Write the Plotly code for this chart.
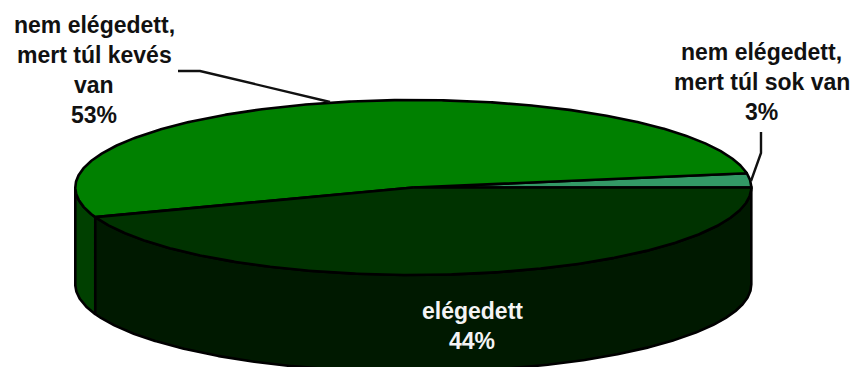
import numpy as np
import plotly.graph_objects as go

# Data
categories = ["nem elégedett, mert túl sok van", "nem elégedett, mert túl kevés van", "elégedett"]
shares = [2.6, 52.9, 44.5]
percent_labels = ["3%", "53%", "44%"]
label_lines = [
    ["nem elégedett,", "mert túl sok van", "3%"],
    ["nem elégedett,", "mert túl kevés", "van", "53%"],
    ["elégedett", "44%"],
]
top_colors = ["#339966", "#008000", "#003300"]
side_colors = ["#1a4d33", "#004000", "#001900"]
text_colors = ["#111111", "#111111", "#f4f4f4"]

# Pie geometry in picture pixels
W, H = 855, 367
CX, CY, RX, RY, DEPTH = 413.3, 187.5, 338, 87.5, 97
LINE = dict(color="black", width=2.6)


def ring(a0, a1, dy=0.0):
    t = np.radians(np.linspace(a0, a1, max(int(abs(a1 - a0) * 3), 2)))
    return CX + RX * np.cos(t), CY - RY * np.sin(t) + dy


fig = go.Figure()


def poly(x, y, color):
    fig.add_trace(go.Scatter(
        x=list(x), y=list(y), mode="lines", fill="toself", fillcolor=color,
        line=LINE, hoverinfo="skip", showlegend=False))


edges = np.cumsum([0] + shares) * 3.6

# Side walls: only the front half (180..360 degrees) is visible
for i in range(len(shares)):
    a0, a1 = max(edges[i], 180.0), max(edges[i + 1], 180.0)
    if a1 > a0:
        x0, y0 = ring(a0, a1)
        x1, y1 = ring(a1, a0, DEPTH)
        poly(np.r_[x0, x1, x0[0]], np.r_[y0, y1, y0[0]], side_colors[i])

# Top faces
for i in range(len(shares)):
    x0, y0 = ring(edges[i], edges[i + 1])
    poly(np.r_[CX, x0, CX], np.r_[CY, y0, CY], top_colors[i])

# Leader lines
leaders = [
    ([761, 761, 751], [132, 153, 181]),
    ([178, 200, 330], [71, 71, 102]),
]
for lx, ly in leaders:
    fig.add_trace(go.Scatter(x=lx, y=ly, mode="lines", line=dict(color="#111111", width=2.4),
                             hoverinfo="skip", showlegend=False))

# Labels: one annotation per line so the line pitch can match
anchors = [(761.5, 52, 30), (94, 25, 30), (472, 311, 30)]
annotations = []
for lines, (ax, ay, pitch), col in zip(label_lines, anchors, text_colors):
    for k, txt in enumerate(lines):
        annotations.append(dict(
            x=ax, y=ay + k * pitch, text=f"<b>{txt}</b>", showarrow=False,
            xanchor="center", yanchor="middle",
            font=dict(family="Liberation Sans", size=23, color=col)))

fig.update_layout(
    width=W, height=H, margin=dict(l=0, r=0, t=0, b=0),
    paper_bgcolor="white", plot_bgcolor="white", showlegend=False,
    xaxis=dict(range=[0, W], visible=False, fixedrange=True),
    yaxis=dict(range=[H, 0], visible=False, fixedrange=True),
    annotations=annotations,
)
fig.write_html("out.html", config={"displayModeBar": False},
               post_script="document.body.style.margin='0';document.body.style.overflow='hidden';")
